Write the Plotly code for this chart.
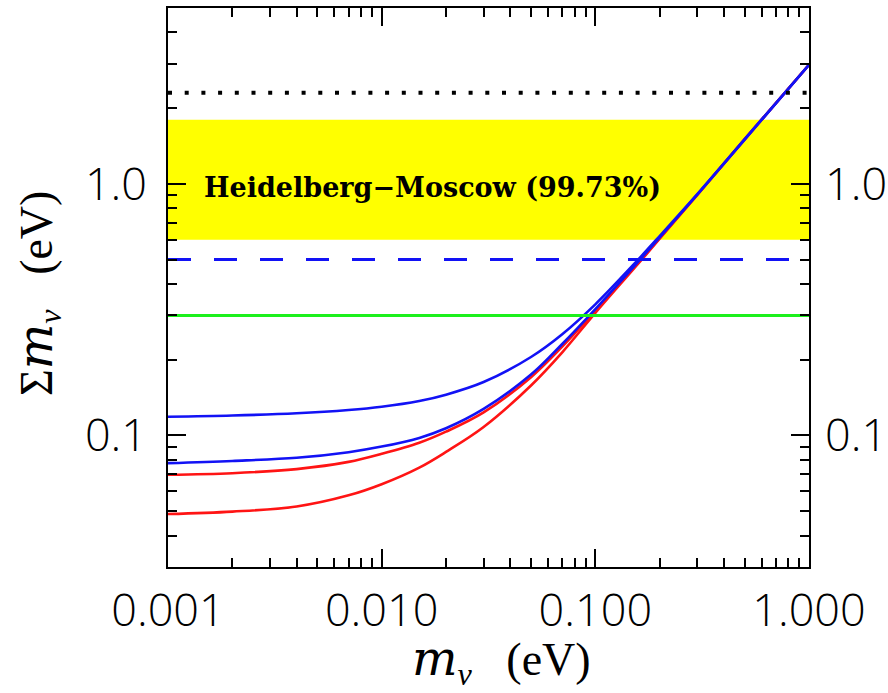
import plotly.graph_objects as go
import numpy as np

# ---------------- data ----------------
x_range_vals = [0.001, 1.0]
y_range_vals = [0.03, 5.0]

# lightest neutrino mass grid (eV)
m_lightest = [0.001, 0.002, 0.004, 0.007, 0.01, 0.015, 0.02, 0.03, 0.05, 0.07, 0.1, 0.15, 0.2, 0.3, 0.5, 1.0]

# sum of masses (eV) for the four curves
sum_ih_upper = [0.1186, 0.1200, 0.1225, 0.1262, 0.1300, 0.1370, 0.1452, 0.1630, 0.2050, 0.2525, 0.3320, 0.4750, 0.6200, 0.9100, 1.5000, 2.975]
sum_ih_lower = [0.0776, 0.0792, 0.0815, 0.0858, 0.0903, 0.0978, 0.1068, 0.1275, 0.1745, 0.2310, 0.3180, 0.4650, 0.6120, 0.9070, 1.5050, 2.975]
sum_nh_upper = [0.0698, 0.0708, 0.0735, 0.0785, 0.0845, 0.0935, 0.1035, 0.1235, 0.1705, 0.2255, 0.3130, 0.4600, 0.6080, 0.9050, 1.5050, 2.975]
sum_nh_lower = [0.0487, 0.0498, 0.0522, 0.0578, 0.0640, 0.0745, 0.0860, 0.1080, 0.1580, 0.2140, 0.3070, 0.4560, 0.6050, 0.9030, 1.5020, 2.975]

# horizontal limits
hm_band = [0.6, 1.8]          # Heidelberg-Moscow 99.73% band
dotted_limit = 2.3
dashed_limit = 0.5
green_limit = 0.3
band_label = "Heidelberg\u2212Moscow (99.73%)"
M_SPAN = '<span style="font-family:DejaVu Serif;font-size:48px"><i>m</i></span>'
GAP = "\u00a0\u00a0\u00a0"
x_title = M_SPAN + "<sub><i>\u03bd</i></sub>" + GAP + "(eV)"
y_title = "\u03a3" + M_SPAN + "<sub><i>\u03bd</i></sub>" + GAP + "(eV)"

x_major = [0.001, 0.01, 0.1, 1.0]
x_major_text = ["0.001", "0.010", "0.100", "1.000"]
y_major = [0.1, 1.0]
y_major_text = ["0.1", "1.0"]
x_minor = [k * 10.0 ** e for e in (-3, -2, -1) for k in range(2, 10)]
y_minor = [k * 10.0 ** e for e in (-2, -1, 0) for k in range(2, 10) if 0.03 <= k * 10.0 ** e <= 5]

# ---------------- figure ----------------
BLUE = "#1212f5"
RED = "#ff1414"
GREEN = "#1cf01c"

fig = go.Figure()

line_kw = dict(mode="lines", line_shape="spline", showlegend=False, hoverinfo="skip")
fig.add_trace(go.Scatter(x=m_lightest, y=sum_nh_lower, line=dict(color=RED, width=2.6, smoothing=1.0), **line_kw))
fig.add_trace(go.Scatter(x=m_lightest, y=sum_nh_upper, line=dict(color=RED, width=2.6, smoothing=1.0), **line_kw))
fig.add_trace(go.Scatter(x=m_lightest, y=sum_ih_lower, line=dict(color=BLUE, width=2.6, smoothing=1.0), **line_kw))
fig.add_trace(go.Scatter(x=m_lightest, y=sum_ih_upper, line=dict(color=BLUE, width=2.6, smoothing=1.0), **line_kw))

# horizontal reference lines on the overlay axes (top / right)
fig.add_trace(go.Scatter(x=x_range_vals, y=[dotted_limit] * 2, mode="lines", xaxis="x2", yaxis="y2",
                         line=dict(color="black", width=4, dash="4px,12.7px"), showlegend=False, hoverinfo="skip"))
fig.add_trace(go.Scatter(x=x_range_vals, y=[dashed_limit] * 2, mode="lines", xaxis="x2", yaxis="y2",
                         line=dict(color=BLUE, width=3, dash="23px,23px"), showlegend=False, hoverinfo="skip"))
fig.add_trace(go.Scatter(x=x_range_vals, y=[green_limit] * 2, mode="lines", xaxis="x2", yaxis="y2",
                         line=dict(color=GREEN, width=3), showlegend=False, hoverinfo="skip"))

fig.add_shape(type="rect", xref="paper", yref="y", x0=0, x1=1, y0=hm_band[0], y1=hm_band[1],
              fillcolor="#ffff00", line=dict(width=0), layer="below")

fig.add_annotation(text=band_label, xref="paper", yref="paper", x=0.413, y=0.71,
                   showarrow=False, font=dict(family="DejaVu Serif", size=27, color="black", weight="bold"))

title_font = dict(family="Liberation Serif", size=46, color="black")
fig.add_annotation(text=x_title, xref="paper", yref="paper", x=0.52, y=-0.168, xanchor="center", yanchor="middle",
                   showarrow=False, font=title_font)
fig.add_annotation(text=y_title, xref="paper", yref="paper", x=-0.203, y=0.49, xanchor="center", yanchor="middle",
                   textangle=-90, showarrow=False, font=title_font)

lx = [np.log10(v) for v in x_range_vals]
ly = [np.log10(v) for v in y_range_vals]

tick_font_x = dict(family="Open Sans", size=45, color="black", weight=300)
tick_font_y = dict(family="Open Sans", size=45, color="black", weight=300)

minor_kw = dict(tickmode="array", ticks="inside", ticklen=9, tickwidth=1.5, tickcolor="black")
common = dict(type="log", showline=True, linecolor="black", linewidth=2, ticks="inside",
              ticklen=18, tickwidth=2, tickcolor="black", showgrid=False, zeroline=False,
              automargin=False)

fig.update_layout(
    width=888, height=693,
    margin=dict(l=168, r=79, t=8, b=126),
    plot_bgcolor="white", paper_bgcolor="white",
    xaxis=dict(range=lx, tickmode="array", tickvals=x_major, ticktext=x_major_text,
               minor=dict(tickvals=x_minor, **minor_kw), tickfont=tick_font_x,
               ticklabelstandoff=3, **common),
    yaxis=dict(range=ly, tickmode="array", tickvals=y_major, ticktext=y_major_text,
               minor=dict(tickvals=y_minor, **minor_kw), tickfont=tick_font_y,
               ticklabelstandoff=10, **common),
    xaxis2=dict(range=lx, overlaying="x", side="top", tickmode="array", tickvals=x_major, showticklabels=False,
                minor=dict(tickvals=x_minor, **minor_kw), **common),
    yaxis2=dict(range=ly, overlaying="y", side="right", tickmode="array", tickvals=y_major, ticktext=y_major_text,
                minor=dict(tickvals=y_minor, **minor_kw), tickfont=tick_font_y,
                ticklabelstandoff=5, **common),
)

fig.write_html("out.html", config={"displayModeBar": False},
               post_script="document.body.style.margin='0px';document.body.style.overflow='hidden';")
